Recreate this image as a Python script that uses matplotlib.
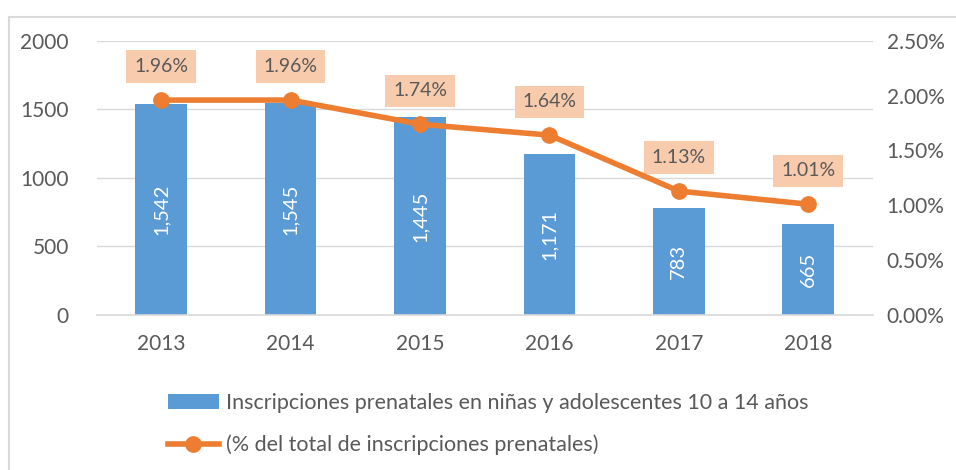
import matplotlib.pyplot as plt
from matplotlib.patches import Rectangle
import numpy as np

plt.rcParams['font.family'] = ['Lato', 'DejaVu Sans']

# datos
years = ['2013', '2014', '2015', '2016', '2017', '2018']
inscripciones = [1542, 1545, 1445, 1171, 783, 665]
porcentaje = [1.96, 1.96, 1.74, 1.64, 1.13, 1.01]
bar_labels = ['1,542', '1,545', '1,445', '1,171', '783', '665']

blue = '#5B9BD5'
orange = '#ED7D31'
gray = '#595959'

fig = plt.figure(figsize=(9.56, 4.7), dpi=100)
fig.patches.append(Rectangle((0.009, -0.01), 1.0, 0.974, transform=fig.transFigure,
                             fill=False, edgecolor='#D9D9D9', linewidth=1.5))

ax = fig.add_axes([0.101, 0.330, 0.812, 0.583])
x = np.arange(len(years))
ax.bar(x, inscripciones, width=0.4, color=blue, zorder=2,
       label='Inscripciones prenatales en niñas y adolescentes 10 a 14 años')
ax.set_ylim(0, 2000)
ax.set_xlim(-0.5, len(years) - 0.5)
ax.set_yticks([0, 500, 1000, 1500, 2000])
ax.set_xticks(x)
ax.set_xticklabels(years)
ax.grid(axis='y', color='#D9D9D9', linewidth=1, zorder=0)
for s in ['top', 'right', 'left']:
    ax.spines[s].set_visible(False)
ax.spines['bottom'].set_color('#D9D9D9')
ax.spines['bottom'].set_linewidth(1.2)
ax.tick_params(axis='both', length=0, colors=gray, labelsize=15)
ax.tick_params(axis='x', pad=14)
ax.tick_params(axis='y', pad=20)

for xi, v, lab in zip(x, inscripciones, bar_labels):
    ax.text(xi, v / 2, lab, rotation=90, ha='center', va='center',
            color='white', fontsize=14.5, zorder=3)

ax2 = ax.twinx()
ax2.plot(x, [p / 100 for p in porcentaje], color=orange, linewidth=4,
         marker='o', markersize=11, zorder=4,
         label='(% del total de inscripciones prenatales)')
ax2.set_ylim(0, 0.025)
ax2.set_yticks([0, 0.005, 0.01, 0.015, 0.02, 0.025])
ax2.set_yticklabels(['0.00%', '0.50%', '1.00%', '1.50%', '2.00%', '2.50%'])
for s in ['top', 'right', 'left', 'bottom']:
    ax2.spines[s].set_visible(False)
ax2.tick_params(axis='y', length=0, colors=gray, labelsize=15, pad=10)

for xi, p in zip(x, porcentaje):
    ax2.annotate(f'{p:.2f}%', (xi, p / 100), xytext=(0, 24), textcoords='offset points',
                 ha='center', va='center', fontsize=14, color=gray,
                 bbox=dict(boxstyle='square,pad=0.4', fc='#F8CBAD', ec='none'))

h1, l1 = ax.get_legend_handles_labels()
h2, l2 = ax2.get_legend_handles_labels()
fig.legend(h1 + h2, l1 + l2, loc='upper left', bbox_to_anchor=(0.155, 0.205),
           frameon=False, fontsize=15.5, labelcolor=gray, handlelength=2.4,
           handletextpad=0.3, labelspacing=1.0)

fig.savefig('out.png', dpi=100)
